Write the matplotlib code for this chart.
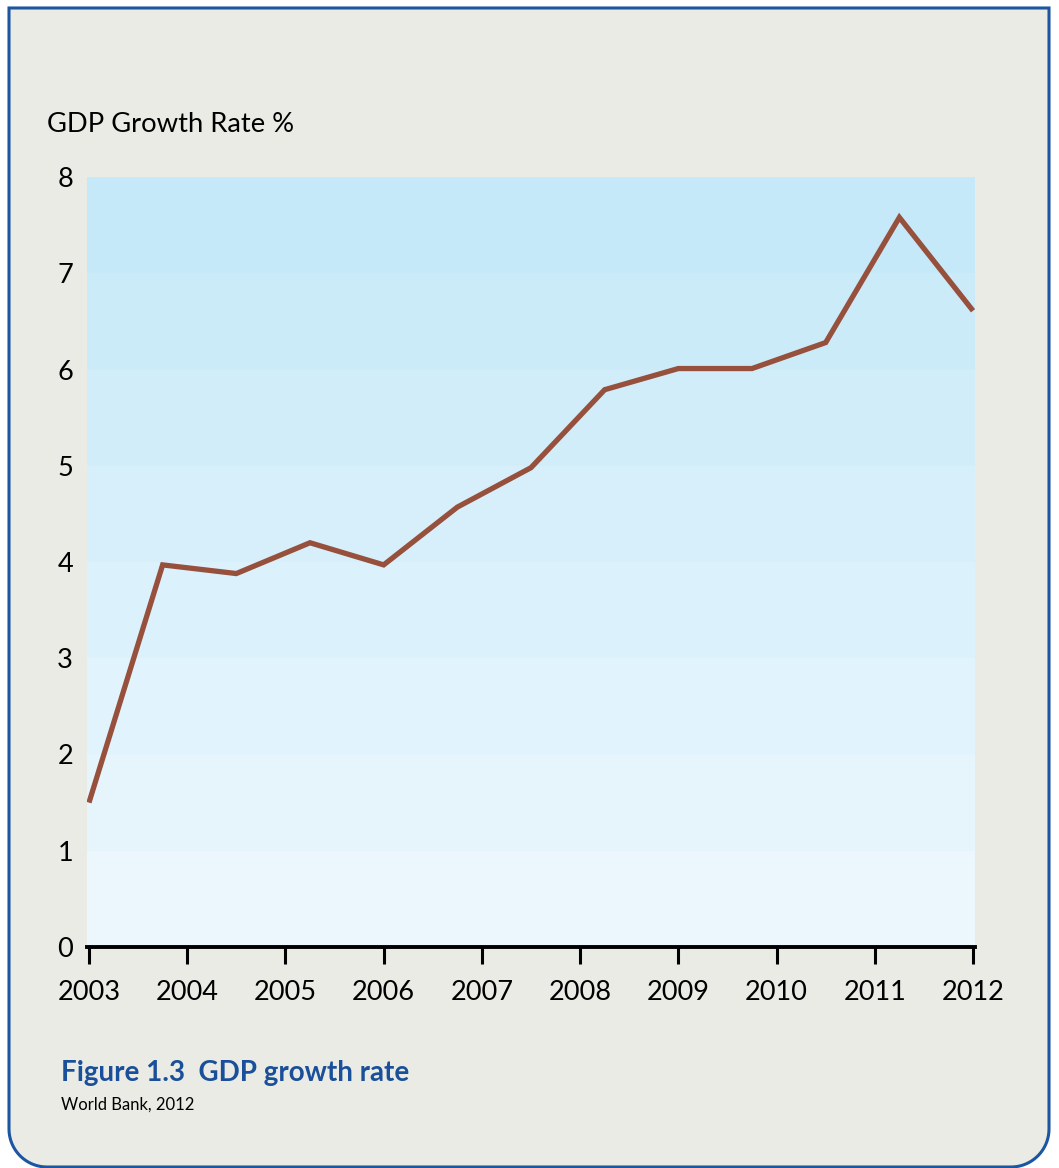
import matplotlib
matplotlib.use('Agg')
import matplotlib.pyplot as plt
import numpy as np
from matplotlib.patches import PathPatch
from matplotlib.path import Path

# ---- data ----
years = [2003, 2003.75, 2004.5, 2005.25, 2006, 2006.75, 2007.5, 2008.25,
         2009, 2009.75, 2010.5, 2011.25, 2012]
growth = [1.50, 3.97, 3.88, 4.20, 3.97, 4.57, 4.98, 5.79,
          6.01, 6.01, 6.28, 7.58, 6.61]
x_ticks = list(range(2003, 2013))
y_ticks = list(range(0, 9))
y_label = "GDP Growth Rate %"
title = "Figure 1.3  GDP growth rate"
source = "World Bank, 2012"

plt.rcParams['font.family'] = ['Lato', 'DejaVu Sans']

W, H = 1059, 1168
fig = plt.figure(figsize=(W / 100, H / 100), dpi=100)
fig.patch.set_facecolor('white')

# ---- frame with rounded bottom corners (pixel coords -> fig fraction) ----
x0, x1, y0, y1, r = 9, 1049, 8, 1167, 38
pts = [(x0, y0), (x1, y0), (x1, y1 - r)]
for a in np.linspace(0, np.pi / 2, 20):
    pts.append((x1 - r + r * np.cos(a), y1 - r + r * np.sin(a)))
pts.append((x0 + r, y1))
for a in np.linspace(np.pi / 2, np.pi, 20):
    pts.append((x0 + r + r * np.cos(a), y1 - r + r * np.sin(a)))
pts.append((x0, y0))
verts = [(px / W, 1 - py / H) for px, py in pts]
codes = [Path.MOVETO] + [Path.LINETO] * (len(verts) - 2) + [Path.CLOSEPOLY]
frame = PathPatch(Path(verts, codes), transform=fig.transFigure,
                  facecolor='#ebebe6', edgecolor='#1c56a0', linewidth=2.2,
                  zorder=-5)
fig.patches.append(frame)

# ---- axes ----
L, R, T, B = 87, 975, 177, 947
ax = fig.add_axes([L / W, 1 - B / H, (R - L) / W, (B - T) / H], zorder=2)
ax.set_facecolor('none')

top_c = np.array([197, 233, 248]) / 255
bot_c = np.array([236, 247, 253]) / 255
nb = len(y_ticks) - 1
for i in range(nb):
    t = i / (nb - 1)
    c = bot_c * (1 - t) + top_c * t
    ax.axhspan(y_ticks[i], y_ticks[i + 1], color=c, lw=0, zorder=0)

ax.plot(years, growth, color='#96503c', lw=3.8, solid_joinstyle='miter',
        solid_capstyle='butt', zorder=3)

ax.set_xlim(2002.98, 2012.02)
ax.set_ylim(0, 8)
ax.set_xticks(x_ticks)
ax.set_xticklabels([str(v) for v in x_ticks], fontsize=19.5)
ax.set_yticks(y_ticks)
ax.set_yticklabels([str(v) for v in y_ticks], fontsize=19.5)
ax.tick_params(axis='x', direction='out', length=12, width=2.2, pad=12,
               colors='black')
ax.tick_params(axis='y', length=0, pad=10)
for s in ['top', 'right', 'left']:
    ax.spines[s].set_visible(False)
ax.spines['bottom'].set_linewidth(2.8)
ax.spines['bottom'].set_color('black')

fig.text(47 / W, 1 - 125 / H, y_label, fontsize=19.7, va='center', ha='left')
fig.text(61 / W, 1 - 1073 / H, title, fontsize=20, fontweight='bold',
         color='#1a4f99', va='center', ha='left')
fig.text(61 / W, 1 - 1105 / H, source, fontsize=12, va='center', ha='left')

fig.savefig('out.png', dpi=100, facecolor=fig.get_facecolor())
